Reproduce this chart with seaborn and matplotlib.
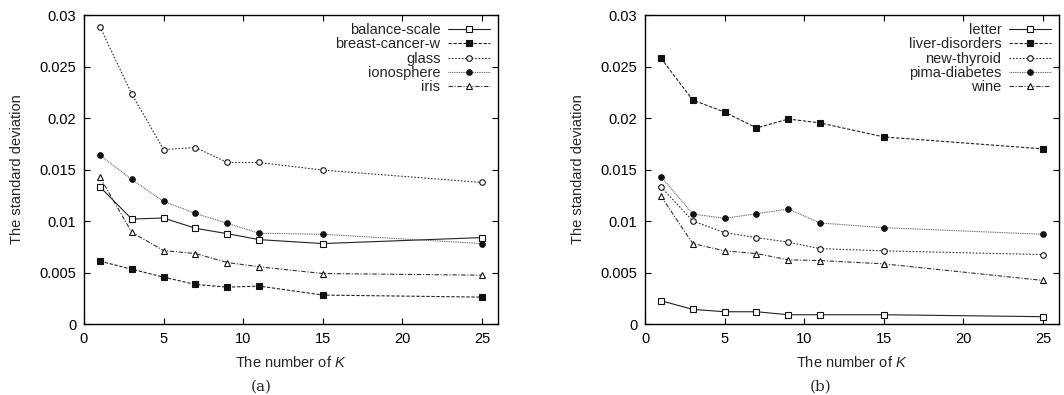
import matplotlib
matplotlib.use("Agg")
import matplotlib.pyplot as plt
import seaborn as sns
import numpy as np
from matplotlib.ticker import FuncFormatter, MultipleLocator

sns.set_theme(style="ticks")
plt.rcParams['font.family'] = ['Liberation Sans', 'DejaVu Sans']
plt.rcParams['mathtext.fontset'] = 'custom'
plt.rcParams['mathtext.it'] = 'Liberation Sans:italic'
plt.rcParams['mathtext.rm'] = 'Liberation Sans'

K = [1, 3, 5, 7, 9, 11, 15, 25]

# panel (a)
balance_scale = [0.01332, 0.01019, 0.01029, 0.00929, 0.00877, 0.00819, 0.00781, 0.00839]
breast_cancer_w = [0.0061, 0.00532, 0.00455, 0.00384, 0.00358, 0.00368, 0.00281, 0.00261]
glass = [0.02887, 0.02232, 0.01694, 0.01713, 0.01568, 0.01568, 0.01494, 0.01374]
ionosphere = [0.01639, 0.01403, 0.0119, 0.01074, 0.00977, 0.00881, 0.00871, 0.00781]
iris = [0.01426, 0.0089, 0.00713, 0.00684, 0.00597, 0.00555, 0.0049, 0.00474]

# panel (b)
letter = [0.00226, 0.00142, 0.00119, 0.00119, 0.0009, 0.0009, 0.0009, 0.00071]
liver_disorders = [0.02581, 0.02174, 0.02058, 0.01903, 0.0199, 0.01952, 0.01816, 0.017]
new_thyroid = [0.01332, 0.0100, 0.00887, 0.00839, 0.00794, 0.00732, 0.0071, 0.00674]
pima_diabetes = [0.01432, 0.01068, 0.01026, 0.01071, 0.01116, 0.00981, 0.00935, 0.00871]
wine = [0.01242, 0.00781, 0.0071, 0.00684, 0.00623, 0.00616, 0.00584, 0.00423]

labels_a = ["balance-scale", "breast-cancer-w", "glass", "ionosphere", "iris"]
labels_b = ["letter", "liver-disorders", "new-thyroid", "pima-diabetes", "wine"]
series_a = [balance_scale, breast_cancer_w, glass, ionosphere, iris]
series_b = [letter, liver_disorders, new_thyroid, pima_diabetes, wine]

styles = [
    dict(linestyle='-', marker='s', mfc='white', color='#222222'),
    dict(linestyle=(0, (3, 1.5)), marker='s', mfc='#111111', color='#222222'),
    dict(linestyle=(0, (1.5, 1.5)), marker='o', mfc='white', color='#333333'),
    dict(linestyle=(0, (0.8, 0.8)), marker='o', mfc='#111111', color='#555555'),
    dict(linestyle=(0, (4, 1.5, 1, 1.5)), marker='^', mfc='white', color='#333333'),
]

FS = 10.5

fig = plt.figure(figsize=(10.64, 3.95), dpi=100)
ax1 = fig.add_axes([84/1064, 1-324/395, (498-84)/1064, (324-15)/395])
ax2 = fig.add_axes([645/1064, 1-324/395, (1059-645)/1064, (324-15)/395])

for ax, labels, series, cap, capx in [(ax1, labels_a, series_a, "(a)", 261),
                                      (ax2, labels_b, series_b, "(b)", 821)]:
    for lab, vals, st in zip(labels, series, styles):
        sns.lineplot(x=K, y=vals, ax=ax, label=lab, linewidth=0.8,
                     markersize=4, markeredgewidth=0.8, markeredgecolor='#111111', **st)
    ax.set_xlim(0, 26)
    ax.set_ylim(0, 0.03)
    ax.xaxis.set_major_locator(MultipleLocator(5))
    ax.yaxis.set_major_locator(MultipleLocator(0.005))
    ax.yaxis.set_major_formatter(FuncFormatter(lambda v, p: f"{v:g}"))
    ax.tick_params(direction='in', top=True, right=True, length=4, width=0.8,
                   labelsize=FS, colors='black')
    ax.tick_params(axis='x', pad=6)
    ax.tick_params(axis='y', pad=5.5)
    for s in ax.spines.values():
        s.set_linewidth(1.0)
        s.set_color('black')
    ax.set_xlabel("The number of $K$", fontsize=FS, labelpad=6)
    ax.set_ylabel("The standard deviation", fontsize=FS, labelpad=11)
    leg = ax.legend(loc='upper right', frameon=False, markerfirst=False,
                    fontsize=FS, handlelength=2.9, labelspacing=0.02,
                    handletextpad=0.5, borderaxespad=0.25, borderpad=0.3,
                    bbox_to_anchor=(1.0, 1.0))
    leg._legend_box.align = "right"
    fig.text(capx / 1064, 1 - 387 / 395, cap, ha='center', va='center',
             fontsize=11, family='DejaVu Serif')

fig.savefig("out.png", dpi=100)
